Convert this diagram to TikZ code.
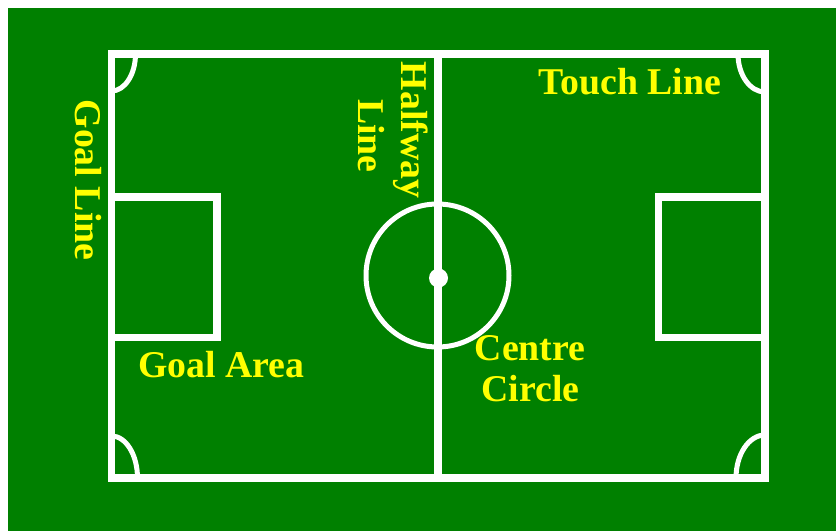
\documentclass[tikz,border=0pt]{standalone}
\usepackage{fontspec}
\setmainfont{Liberation Serif}
\definecolor{pitchgreen}{RGB}{0,128,0}
\definecolor{labelyellow}{RGB}{255,255,0}
\tikzset{
  pitchline/.style={draw=white, line width=7.5pt, line join=miter},
  thinline/.style={draw=white, line width=5pt},
  lbl/.style={text=labelyellow, font=\fontsize{37.8}{41}\selectfont\bfseries, inner sep=0pt, anchor=base},
}
\begin{document}
\begin{tikzpicture}[x=1pt,y=-1pt]
\useasboundingbox (0,0) rectangle (836,531);
\fill[white] (0,0) rectangle (836,531);
\fill[pitchgreen] (8,8) rectangle (836,531);
% corners
\coordinate (tl) at (111.5,54);
\coordinate (tr) at (765,54);
\coordinate (br) at (765,478);
\coordinate (bl) at (111.5,478);
% outline
\draw[pitchline] (tl) -- (tr) -- (br) -- (bl) -- cycle;
% halfway line
\coordinate (ht) at (438,54);
\coordinate (hb) at (438,474);
\draw[pitchline] (ht) -- (hb);
% goal areas
\coordinate (la1) at (111.5,197);
\coordinate (la2) at (217,197);
\coordinate (la3) at (217,337.5);
\coordinate (la4) at (111.5,337.5);
\draw[pitchline] (la1) -- (la2) -- (la3) -- (la4);
\coordinate (ra1) at (765,197);
\coordinate (ra2) at (658.5,197);
\coordinate (ra3) at (658.5,337.5);
\coordinate (ra4) at (765,337.5);
\draw[pitchline] (ra1) -- (ra2) -- (ra3) -- (ra4);
% centre circle and spot
\coordinate (cc) at (437.5,275.5);
\draw[thinline] (cc) circle[radius=71.5];
\coordinate (spot) at (438.5,278);
\fill[white] (spot) circle[radius=9.5];
% corner arcs
\draw[thinline] (tl) ++(24,0) arc[start angle=0,end angle=90,x radius=24,y radius=37];
\draw[thinline] (tr) ++(-27,0) arc[start angle=180,end angle=90,x radius=27,y radius=38];
\draw[thinline] (br) ++(-29,0) arc[start angle=180,end angle=270,x radius=29,y radius=43];
\draw[thinline] (bl) ++(26,0) arc[start angle=0,end angle=-90,x radius=26,y radius=42];
% labels
\node[lbl] (touch) at (630,94) {Touch Line};
\node[lbl] (goalarea) at (221.5,377) {Goal Area};
\node[lbl] (centre1) at (530,360) {Centre};
\node[lbl] (centre2) at (530.5,401) {Circle};
\node[lbl, rotate=-90] (goalline) at (75.5,180) {Goal Line};
\node[lbl, rotate=-90] (halfway) at (401.5,130) {Halfway};
\node[lbl, rotate=-90] (halfline) at (358,136) {Line};
\end{tikzpicture}
\end{document}
